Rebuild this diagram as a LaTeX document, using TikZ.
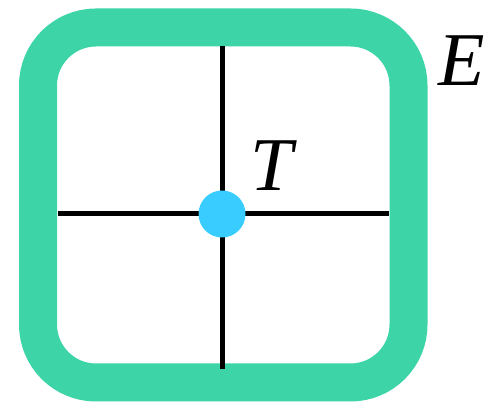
\documentclass[tikz,border=0pt]{standalone}
\usepackage{fontspec}
\setmainfont{Liberation Serif}
\definecolor{ringgreen}{RGB}{61,212,168}
\definecolor{dotblue}{RGB}{56,204,255}
\begin{document}
\begin{tikzpicture}[x=1pt,y=1pt,
  ring/.style={draw=ringgreen,line width=38pt,rounded corners=58pt},
  crossline/.style={draw=black,line width=5pt},
  dot/.style={circle,fill=dotblue,minimum size=47pt,inner sep=0pt},
  lbl/.style={font=\fontsize{76}{76}\selectfont\itshape,inner sep=0pt}]
\useasboundingbox (0,0) rectangle (485,403);
\draw[ring] (38,375.5) rectangle (408.5,20.5);
\coordinate (top) at (222,357);
\coordinate (bot) at (222,34);
\coordinate (lft) at (58,189);
\coordinate (rgt) at (389,189);
\draw[crossline] (top) -- (bot);
\draw[crossline] (lft) -- (rgt);
\node[dot] (t) at (222,189) {};
\node[lbl] (tl) at (272,237.5) {T};
\node[lbl] (el) at (462,342.5) {E};
\end{tikzpicture}
\end{document}
